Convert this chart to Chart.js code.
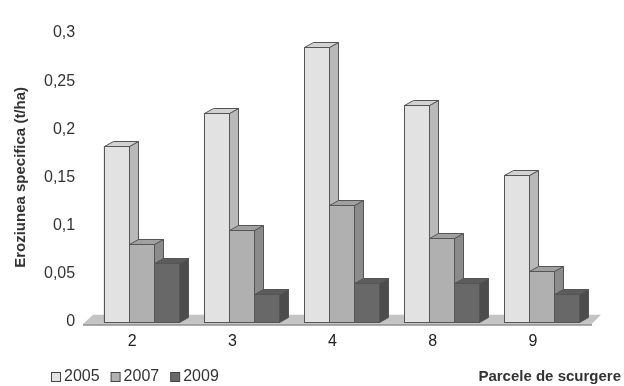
<!DOCTYPE html>
<html>
<head>
<meta charset="utf-8">
<script src="https://cdn.jsdelivr.net/npm/chart.js@4"></script>
<style>
  html, body { margin: 0; padding: 0; background: #fff; }
  #wrap { width: 624px; height: 386px; }
</style>
</head>
<body>
<div id="wrap"><canvas id="erosionChart"></canvas></div>
<script>
// Data
const parcels = ["2", "3", "4", "8", "9"];
const years = ["2005", "2007", "2009"];
const values2005 = [0.183, 0.217, 0.285, 0.225, 0.153];
const values2007 = [0.081, 0.095, 0.121, 0.087, 0.053];
const values2009 = [0.061, 0.029, 0.04, 0.04, 0.029];
const yTicks = [0, 0.05, 0.1, 0.15, 0.2, 0.25, 0.3];

const FONT = "'Liberation Sans', Arial, sans-serif";
const DX = 9, DY = 5; // 3d depth

const faces = [
  { front: "#e2e2e2", side: "#b9b9b9", top: "#d2d2d2" },
  { front: "#b0b0b0", side: "#8b8b8b", top: "#a0a0a0" },
  { front: "#686868", side: "#4c4c4c", top: "#5c5c5c" }
];

// floor, fake 3d faces and the legend line, drawn from chart elements
const bars3d = {
  id: "bars3d",
  beforeDatasetsDraw(chart) {
    const ctx = chart.ctx, a = chart.chartArea;
    const base = chart.scales.y.getPixelForValue(0);
    ctx.save();
    ctx.fillStyle = "#c4c4c4";
    ctx.beginPath();
    ctx.moveTo(a.left - 8, base + 2);
    ctx.lineTo(a.right, base + 2);
    ctx.lineTo(a.right + DX, base - DY - 2);
    ctx.lineTo(a.left + 2, base - DY - 2);
    ctx.closePath();
    ctx.fill();
    ctx.fillStyle = "#9a9a9a";
    ctx.fillRect(a.left - 8, base + 2, a.right - a.left + 8, 2);
    ctx.restore();
  },
  afterDatasetsDraw(chart) {
    const ctx = chart.ctx;
    ctx.save();
    ctx.strokeStyle = "#555";
    ctx.lineWidth = 1;
    chart.data.datasets.forEach((ds, i) => {
      const f = faces[i];
      chart.getDatasetMeta(i).data.forEach(bar => {
        const p = bar.getProps(["x", "y", "base", "width"], true);
        const l = Math.round(p.x - p.width / 2) + 0.5;
        const r = Math.round(p.x + p.width / 2) + 0.5;
        const t = Math.round(p.y) + 0.5, b = Math.round(p.base) + 0.5;
        ctx.fillStyle = f.side;
        ctx.beginPath();
        ctx.moveTo(r, t); ctx.lineTo(r + DX, t - DY);
        ctx.lineTo(r + DX, b - DY); ctx.lineTo(r, b);
        ctx.closePath(); ctx.fill(); ctx.stroke();
        ctx.fillStyle = f.top;
        ctx.beginPath();
        ctx.moveTo(l, t); ctx.lineTo(l + DX, t - DY);
        ctx.lineTo(r + DX, t - DY); ctx.lineTo(r, t);
        ctx.closePath(); ctx.fill(); ctx.stroke();
        ctx.fillStyle = f.front;
        ctx.fillRect(l, t, r - l, b - t);
        ctx.strokeRect(l, t, r - l, b - t);
      });
    });
    ctx.restore();
  },
  afterDraw(chart) {
    const ctx = chart.ctx;
    const y = 377;
    ctx.save();
    ctx.textBaseline = "middle";
    ctx.font = "16px " + FONT;
    let x = 51;
    chart.data.datasets.forEach((ds, i) => {
      ctx.fillStyle = faces[i].front;
      ctx.strokeStyle = "#444";
      ctx.fillRect(x + 0.5, y - 4.5, 9, 9);
      ctx.strokeRect(x + 0.5, y - 4.5, 9, 9);
      ctx.fillStyle = "#333";
      ctx.textAlign = "left";
      ctx.fillText(ds.label, x + 13, y);
      x += 13 + ctx.measureText(ds.label).width + 11;
    });
    ctx.font = "bold 15px " + FONT;
    ctx.textAlign = "right";
    ctx.fillText("Parcele de scurgere", 621, y);
    ctx.restore();
  }
};

const data = {
  labels: parcels,
  datasets: [
    { label: years[0], data: values2005, backgroundColor: faces[0].front },
    { label: years[1], data: values2007, backgroundColor: faces[1].front },
    { label: years[2], data: values2009, backgroundColor: faces[2].front }
  ].map(d => Object.assign(d, { borderColor: "#555", borderWidth: 1 }))
};

const config = {
  type: "bar",
  data: data,
  options: {
    responsive: true,
    maintainAspectRatio: false,
    animation: false,
    layout: { padding: { top: 33, left: 6, right: 32, bottom: 33 } },
    datasets: { bar: { categoryPercentage: 0.75, barPercentage: 1 } },
    plugins: {
      tooltip: { enabled: false },
      legend: { display: false }
    },
    scales: {
      x: {
        grid: { display: false },
        border: { display: false },
        ticks: { color: "#222", labelOffset: -9, padding: 2, font: { family: FONT, size: 16 } }
      },
      y: {
        min: 0, max: 0.3,
        afterBuildTicks: axis => { axis.ticks = yTicks.map(v => ({ value: v })); },
        grid: { display: false },
        border: { display: false },
        title: {
          display: true, text: "Eroziunea specifica (t/ha)",
          color: "#333", font: { family: FONT, size: 15, weight: "bold" }, padding: 6
        },
        ticks: {
          color: "#333", padding: 8, font: { family: FONT, size: 16 },
          callback: v => String(+v.toFixed(2)).replace(".", ",")
        }
      }
    }
  },
  plugins: [bars3d]
};

window.addEventListener("DOMContentLoaded", () => {
  new Chart(document.getElementById("erosionChart"), config);
});
</script>
</body>
</html>
